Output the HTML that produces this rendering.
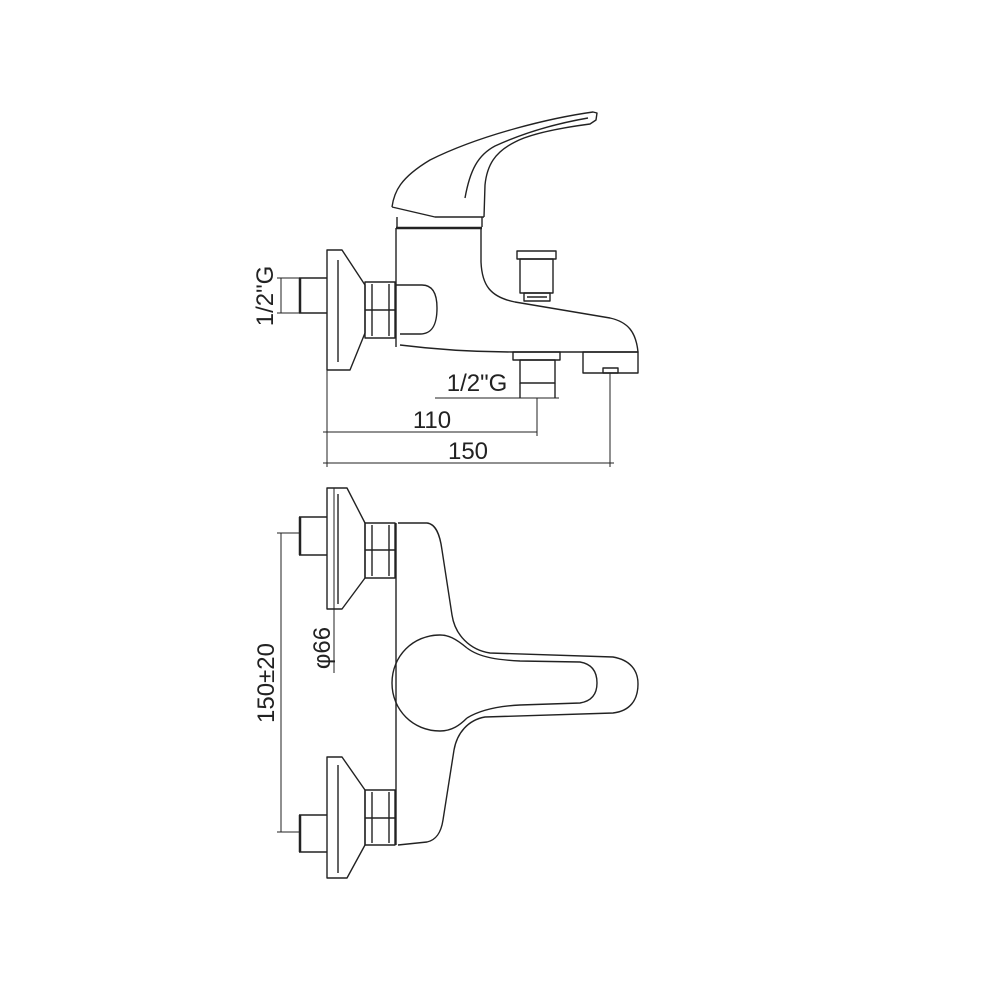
<!DOCTYPE html>
<html><head><meta charset="utf-8"><style>
html,body{margin:0;padding:0;background:#fff;}
svg{display:block;}
text{font-family:"Liberation Sans","DejaVu Sans",sans-serif;fill:#222;}
</style></head><body>
<svg width="1000" height="1000" viewBox="0 0 1000 1000" xmlns="http://www.w3.org/2000/svg">
<g fill="none" stroke="#222" stroke-width="1.4" stroke-linejoin="round">
<path d="M392,207 C394,192 400,178 430,160 C480,135 550,118 593,112 L597,113 L596,120 L590,124 C560,128 530,134 515,142 C495,152 487,165 485,185 L484,217"/>
<path d="M392,207 L435,217 L484,217"/>
<path d="M465,198 C470,170 478,155 495,146 C530,130 565,122 588,118"/>
<path d="M397,217 L397,227 M482,217 L482,227"/>
<path d="M396,228 L482,228" stroke-width="2.5"/>
<path d="M396,228 L396,347"/>
<path d="M481,228 L481,262 C482,285 490,297 515,302 L610,318 C628,322 636,332 638,352 L583,352"/>
<path d="M400,345 C440,350 480,352 513,352"/>
<path d="M513,352 L583,352"/>
<path d="M396,285 L422,285 C432,285 437,293 437,308 C437,325 432,334 420,334 L400,334"/>
<path d="M327,250 L342,250 L365,285 L365,333 L350,370 L327,370 Z"/>
<path d="M338,260 L338,362"/>
<path d="M299,278 L327,278 M299,313 L327,313"/>
<path d="M300,278 L300,313" stroke-width="2.5"/>
<rect x="365" y="282" width="30" height="56"/>
<path d="M372,284 L372,336 M389,284 L389,336 M365,310 L395,310"/>
<rect x="517" y="251" width="39" height="8"/>
<rect x="520" y="259" width="33" height="34"/>
<rect x="524" y="293" width="26" height="8"/>
<path d="M527,297 L547,297"/>
<rect x="513" y="352" width="47" height="8"/>
<rect x="520" y="360" width="35" height="23"/>
<path d="M520,383 L520,398 M555,383 L555,398"/>
<rect x="583" y="352" width="55" height="21"/>
<rect x="603" y="368" width="15" height="5"/>
<g stroke-width="1">
<path d="M281,278 L281,313 M277,278 L299,278 M277,313 L299,313"/>
<path d="M435,398 L559,398"/>
<path d="M537,398 L537,436"/>
<path d="M327,370 L327,467"/>
<path d="M323,432 L537,432"/>
<path d="M610,373 L610,467"/>
<path d="M323,463 L614,463"/>
</g>
<path d="M327,488 L347,488 L365,523 L365,578 L342,609 L327,609 Z"/>
<path d="M338,494 L338,604"/>
<path d="M299,517 L327,517 M299,555 L327,555"/>
<path d="M300,517 L300,555" stroke-width="2.5"/>
<rect x="365" y="523" width="30" height="55"/>
<path d="M372,525 L372,576 M389,525 L389,576 M365,550 L395,550"/>
<path d="M327,757 L342,757 L365,790 L365,845 L347,878 L327,878 Z"/>
<path d="M338,765 L338,873"/>
<path d="M299,815 L327,815 M299,852 L327,852"/>
<path d="M300,815 L300,852" stroke-width="2.5"/>
<rect x="365" y="790" width="30" height="55"/>
<path d="M372,792 L372,843 M389,792 L389,843 M365,818 L395,818"/>
<path d="M396,523 L396,845"/>
<path d="M398,523 L427,523 C436,524 440,535 442,550 L452,615 C455,635 470,650 490,653 L613,657 C630,660 638,670 638,684 C638,700 630,711 613,713 L485,717 C468,720 457,733 454,750 L443,820 C441,833 436,840 427,842 L398,845"/>
<path d="M467,648 C455,638 448,635 440,635 C413,635 392,656 392,683 C392,710 413,731 440,731 C452,731 460,725 467,718"/>
<path d="M467,648 C480,658 500,660 520,661 L580,662 C592,664 597,672 597,683 C597,694 592,701 580,703 L520,705 C500,706 480,710 467,718"/>
<g stroke-width="1">
<path d="M281,533 L281,832 M277,533 L299,533 M277,832 L299,832"/>
<path d="M334,488 L334,673"/>
</g>
</g>
<text x="0" y="0" font-size="24" text-anchor="middle" transform="translate(273,296) rotate(-90)">1/2"G</text>
<text x="477" y="391" font-size="24" text-anchor="middle">1/2"G</text>
<text x="432" y="428" font-size="24" text-anchor="middle">110</text>
<text x="468" y="459" font-size="24" text-anchor="middle">150</text>
<text x="0" y="0" font-size="24" text-anchor="middle" transform="translate(274,683) rotate(-90)">150±20</text>
<text x="0" y="0" font-size="24" text-anchor="middle" transform="translate(330,648) rotate(-90)">φ66</text>
</svg>
</body></html>
